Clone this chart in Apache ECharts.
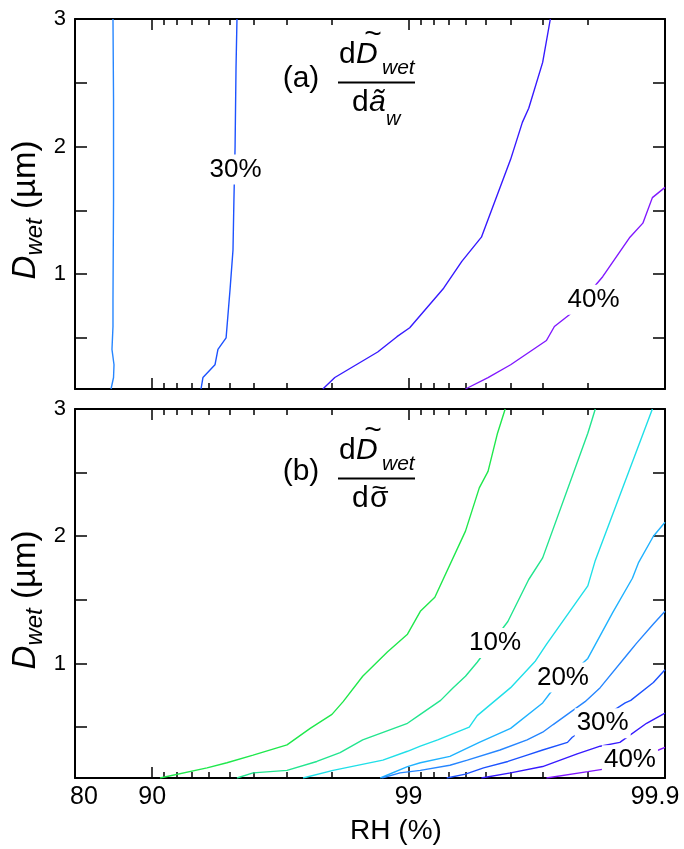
<!DOCTYPE html>
<html>
<head>
<meta charset="utf-8">
<title>Sensitivity of wet diameter to water activity and surface tension</title>
<script src="https://cdn.jsdelivr.net/npm/echarts@6.0.0/dist/echarts.min.js"></script>
<style>
  html, body { margin: 0; padding: 0; background: #fff; }
  #chart { width: 684px; height: 849px; }
</style>
</head>
<body>
<div id="chart"></div>
<script>
// ---------------- axes ----------------
const rhRange = [80, 99.9];                 // RH (%)
const rhTicks = [80, 90, 99, 99.9];
const rhMinorTicks = [91, 92, 93, 94, 95, 96, 97, 98,
                      99.1, 99.2, 99.3, 99.4, 99.5, 99.6, 99.7, 99.8];
const dRange = [0.1, 3];                    // D_wet (µm)
const dTicks = [1, 2, 3];
const dMinorTicks = [0.5, 1.5, 2.5];

// ---------------- (a) dD/da_w contours: [RH (%), D_wet (µm)] ----------------
const a25 = [[85.53, 0.10], [85.85, 0.19], [85.91, 0.29], [85.65, 0.41], [85.78, 0.59],
             [85.78, 0.80], [85.85, 1.58], [85.85, 2.37], [85.78, 3.00]];
const a30 = [[93.55, 0.10], [93.66, 0.19], [94.31, 0.29], [94.46, 0.41], [94.85, 0.50],
             [95.03, 0.88], [95.16, 1.19], [95.20, 1.58], [95.25, 2.00], [95.29, 2.62], [95.33, 3.00]];
const a35 = [[97.84, 0.10], [98.06, 0.19], [98.68, 0.39], [98.89, 0.51], [99.01, 0.58],
             [99.27, 0.89], [99.38, 1.10], [99.48, 1.29], [99.60, 1.90], [99.64, 2.19],
             [99.66, 2.30], [99.70, 2.66], [99.72, 3.00]];
const a40 = [[99.40, 0.10], [99.51, 0.19], [99.60, 0.29], [99.71, 0.48], [99.73, 0.59],
             [99.77, 0.70], [99.825, 0.98], [99.863, 1.29], [99.878, 1.40], [99.888, 1.60], [99.90, 1.68]];
const aLabels = [[95.27, 1.82, '30%'], [99.81, 0.80, '40%']];

// ---------------- (b) dD/dsigma contours: [RH (%), D_wet (µm)] ----------------
const b05 = [[90.68, 0.10], [93.89, 0.18], [94.89, 0.22], [95.96, 0.28], [97.02, 0.36],
             [97.58, 0.49], [98.01, 0.60], [98.20, 0.70], [98.49, 0.90], [98.79, 1.09],
             [98.99, 1.23], [99.10, 1.41], [99.21, 1.52], [99.40, 2.04], [99.47, 2.38],
             [99.51, 2.51], [99.55, 2.81], [99.58, 3.00]];
const b10 = [[95.33, 0.10], [95.96, 0.14], [97.02, 0.16], [97.72, 0.23], [98.15, 0.30],
             [98.49, 0.40], [98.99, 0.53], [99.10, 0.60], [99.25, 0.71], [99.33, 0.81],
             [99.40, 0.90], [99.46, 1.01], [99.59, 1.33], [99.66, 1.66], [99.70, 1.83],
             [99.800, 2.81], [99.807, 2.91], [99.813, 3.00]];
const b15 = [[97.42, 0.10], [98.03, 0.16], [98.74, 0.24], [98.99, 0.31], [99.10, 0.35],
             [99.23, 0.40], [99.42, 0.50], [99.46, 0.59], [99.60, 0.81], [99.68, 1.02],
             [99.71, 1.15], [99.80, 1.61], [99.813, 1.81], [99.888, 3.00]];
const b20 = [[98.71, 0.10], [98.99, 0.19], [99.10, 0.22], [99.31, 0.27], [99.47, 0.38],
             [99.60, 0.49], [99.70, 0.69], [99.72, 0.77], [99.80, 1.04], [99.840, 1.40],
             [99.866, 1.67], [99.873, 1.79], [99.889, 2.00], [99.90, 2.11]];
const b25 = [[98.73, 0.10], [98.92, 0.14], [99.10, 0.16], [99.31, 0.20], [99.41, 0.24],
             [99.56, 0.32], [99.655, 0.40], [99.70, 0.46], [99.727, 0.52], [99.795, 0.70],
             [99.821, 0.81], [99.861, 1.08], [99.871, 1.16], [99.889, 1.31], [99.90, 1.41]];
const b30 = [[99.29, 0.10], [99.40, 0.13], [99.49, 0.18], [99.59, 0.23], [99.655, 0.28],
             [99.70, 0.32], [99.76, 0.38], [99.77, 0.42], [99.857, 0.69], [99.864, 0.71],
             [99.889, 0.85], [99.90, 0.95]];
const b35 = [[99.48, 0.10], [99.60, 0.14], [99.70, 0.19], [99.78, 0.29], [99.821, 0.35],
             [99.85, 0.38], [99.882, 0.53], [99.90, 0.61]];
const b40 = [[99.71, 0.10], [99.80, 0.15], [99.827, 0.17], [99.894, 0.32], [99.90, 0.34]];
const bLabels = [[99.54, 1.16, '10%'], [99.75, 0.89, '20%'], [99.825, 0.53, '30%'], [99.863, 0.24, '40%']];

// contour colour per level (%)
const levelColor = {
  5: '#1fe84c', 10: '#22e58f', 15: '#1fdfe8', 20: '#1fb2ff',
  25: '#2686ff', 30: '#1c52ff', 35: '#361aff', 40: '#8018ff'
};

// RH is drawn on a "number of nines" scale: x = -log10(1 - RH/100)
const rhToX = rh => -Math.log10(1 - rh / 100);
const xToRh = x => 100 * (1 - Math.pow(10, -x));

const FONT = '"Liberation Sans", Arial, Helvetica, sans-serif';
const BLACK = '#000';

// ---------------- layout ----------------
const grids = [
  { left: 75, right: 19, top: 19, height: 370 },
  { left: 75, right: 19, top: 409, height: 369 }
];

function xAxesFor(g, withLabels) {
  const base = {
    type: 'value', gridIndex: g,
    min: rhToX(rhRange[0]), max: rhToX(rhRange[1]),
    splitLine: { show: false }, axisPointer: { show: false }
  };
  const tickStyle = { color: BLACK, width: 1.5 };
  const major = rhTicks.map(rhToX);
  const minor = rhMinorTicks.map(rhToX);
  const labelFont = { fontSize: 25, lineHeight: 25, fontFamily: FONT, color: BLACK };
  return [
    Object.assign({}, base, {
      position: 'bottom',
      axisLine: { show: true, onZero: false, lineStyle: { color: BLACK, width: 2 } },
      axisTick: { show: true, inside: true, length: 11, customValues: major, lineStyle: tickStyle },
      axisLabel: Object.assign({
        show: withLabels, customValues: major, margin: 7,
        formatter: v => {
          const rh = +xToRh(v).toFixed(1);
          if (rh === rhRange[0]) return '{l|' + rh + '}';
          if (rh === rhRange[1]) return '{r|' + rh + '}';
          return String(rh);
        },
        rich: {
          l: Object.assign({ padding: [0, 0, 0, 18] }, labelFont),
          r: Object.assign({ padding: [0, 20, 0, 0] }, labelFont)
        }
      }, labelFont)
    }),
    Object.assign({}, base, {
      position: 'bottom',
      axisLine: { show: false },
      axisTick: { show: true, inside: true, length: 6, customValues: minor, lineStyle: tickStyle },
      axisLabel: { show: false }
    }),
    Object.assign({}, base, {
      position: 'top',
      axisLine: { show: true, onZero: false, lineStyle: { color: BLACK, width: 2 } },
      axisTick: { show: true, inside: true, length: 11, customValues: major, lineStyle: tickStyle },
      axisLabel: { show: false }
    }),
    Object.assign({}, base, {
      position: 'top',
      axisLine: { show: false },
      axisTick: { show: true, inside: true, length: 6, customValues: minor, lineStyle: tickStyle },
      axisLabel: { show: false }
    })
  ];
}

function yAxesFor(g) {
  const ticks = dTicks.concat(dMinorTicks);
  const base = {
    type: 'value', gridIndex: g, min: dRange[0], max: dRange[1],
    splitLine: { show: false }, axisPointer: { show: false },
    axisLine: { show: true, onZero: false, lineStyle: { color: BLACK, width: 2 } },
    axisTick: { show: true, inside: true, length: 12, customValues: ticks, lineStyle: { color: BLACK, width: 1.5 } }
  };
  return [
    Object.assign({}, base, {
      position: 'left',
      axisLabel: { show: true, customValues: dTicks, margin: 9, color: BLACK, fontFamily: FONT, fontSize: 22 }
    }),
    Object.assign({}, base, { position: 'right', axisLabel: { show: false } })
  ];
}

function contour(points, level, g) {
  return {
    type: 'line', xAxisIndex: g * 4, yAxisIndex: g * 2,
    data: points.map(p => [rhToX(p[0]), p[1]]),
    symbol: 'none', showSymbol: false, silent: true, z: 2,
    lineStyle: { color: levelColor[level], width: 1.4 }
  };
}

function contourLabels(labels, g) {
  return {
    type: 'scatter', xAxisIndex: g * 4, yAxisIndex: g * 2,
    symbol: 'circle', symbolSize: 0, silent: true, z: 5,
    itemStyle: { opacity: 1 },
    data: labels.map(l => ({ value: [rhToX(l[0]), l[1]], name: l[2] })),
    label: {
      show: true, position: 'inside', formatter: '{b}', opacity: 1,
      fontFamily: FONT, fontSize: 26, lineHeight: 26, color: BLACK,
      textBorderWidth: 0, backgroundColor: '#fff', padding: [2, 2]
    }
  };
}

// ---------------- annotation text ----------------
function txt(x, y, s, size, extra) {
  return {
    type: 'text', x: x, y: y, silent: true, z: 10,
    style: Object.assign({
      text: s, fontSize: size, fontFamily: FONT, fill: BLACK,
      align: 'left', verticalAlign: 'middle'
    }, extra || {})
  };
}

// "(a) dD~wet / da~w" and "(b) dD~wet / dσ~"
function panelLabel(top, tag, denom, tagShift, fracShift) {
  const t = top + tagShift, f = top + fracShift;
  const els = [
    txt(301, t + 59.5, tag, 30, { align: 'center' }),
    txt(339, f + 35.6, 'd', 30),
    txt(356, f + 35.6, 'D', 30, { fontStyle: 'italic' }),
    txt(373, f + 16, '~', 30, { align: 'center' }),
    txt(382, f + 48.7, 'wet', 21, { fontStyle: 'italic' }),
    { type: 'line', silent: true, z: 10,
      shape: { x1: 338, y1: f + 63.5, x2: 415, y2: f + 63.5 },
      style: { stroke: BLACK, lineWidth: 2 } },
    txt(352, f + 83.6, 'd', 30)
  ];
  if (denom === 'a') {
    els.push(txt(369, f + 83.6, 'ã', 30, { fontStyle: 'italic' }));
    els.push(txt(386, f + 100, 'w', 20, { fontStyle: 'italic' }));
  } else {
    els.push(txt(370, f + 83.6, 'σ', 30));
    els.push(txt(379, f + 74, '~', 26, { align: 'center' }));
  }
  return els;
}

function yTitle(cy) {
  return {
    type: 'text', x: 26, y: cy, rotation: Math.PI / 2, silent: true, z: 10,
    style: {
      text: '{i|D}{s|wet}{n| (µm)}', align: 'center', verticalAlign: 'middle',
      rich: {
        i: { fontSize: 33, fontStyle: 'italic', fontFamily: FONT, fill: BLACK },
        s: { fontSize: 24, fontStyle: 'italic', fontFamily: FONT, fill: BLACK, padding: [18, 0, 0, 0] },
        n: { fontSize: 33, fontFamily: FONT, fill: BLACK }
      }
    }
  };
}

const option = {
  animation: false,
  backgroundColor: '#fff',
  grid: grids.map(g => Object.assign({ containLabel: false, outerBoundsMode: 'none' }, g)),
  xAxis: xAxesFor(0, false).concat(xAxesFor(1, true)),
  yAxis: yAxesFor(0).concat(yAxesFor(1)),
  series: [
    contour(a25, 25, 0), contour(a30, 30, 0), contour(a35, 35, 0), contour(a40, 40, 0),
    contourLabels(aLabels, 0),
    contour(b05, 5, 1), contour(b10, 10, 1), contour(b15, 15, 1), contour(b20, 20, 1),
    contour(b25, 25, 1), contour(b30, 30, 1), contour(b35, 35, 1), contour(b40, 40, 1),
    contourLabels(bLabels, 1)
  ],
  graphic: [
    yTitle(210), yTitle(600),
    txt(396, 831, 'RH (%)', 28, { align: 'center' })
  ].concat(panelLabel(19, '(a)', 'a', 0, 0), panelLabel(409, '(b)', 'sigma', 3, 6))
};

const chart = echarts.init(document.getElementById('chart'), null, { renderer: 'canvas' });
chart.setOption(option);
</script>
</body>
</html>
